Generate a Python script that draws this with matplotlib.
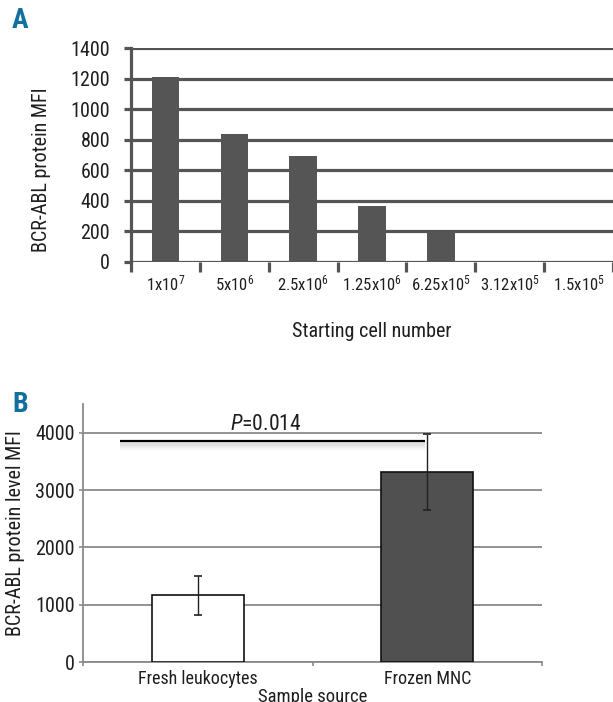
import matplotlib
matplotlib.use("Agg")
import matplotlib.pyplot as plt
import matplotlib.font_manager as fm
import numpy as np

# ---------------- data ----------------
cells_labels = [r"1x10$^{7}$", r"5x10$^{6}$", r"2.5x10$^{6}$", r"1.25x10$^{6}$",
                r"6.25x10$^{5}$", r"3.12x10$^{5}$", r"1.5x10$^{5}$"]
mfi_a = [1210, 835, 695, 365, 205, 0, 0]
yticks_a = [0, 200, 400, 600, 800, 1000, 1200, 1400]

sources = ["Fresh leukocytes", "Frozen MNC"]
mfi_b = [1165, 3320]
err_b = [340, 665]
yticks_b = [0, 1000, 2000, 3000, 4000]
p_text = "=0.014"

# ---------------- font ----------------
available = {f.name for f in fm.fontManager.ttflist}
FONT = "Liberation Sans"
for cand in ["Roboto Condensed", "Archivo Narrow", "PT Sans Narrow",
             "Liberation Sans Narrow", "Arial Narrow"]:
    if cand in available:
        FONT = cand
        break
plt.rcParams["font.family"] = [FONT, "DejaVu Sans"]
plt.rcParams["mathtext.fontset"] = "custom"
plt.rcParams["mathtext.rm"] = FONT
plt.rcParams["mathtext.it"] = FONT + ":italic"
plt.rcParams["mathtext.bf"] = FONT + ":bold"
TXT = "#1e1e1e"
plt.rcParams["text.color"] = TXT
plt.rcParams["xtick.color"] = TXT
plt.rcParams["ytick.color"] = TXT
plt.rcParams["axes.labelcolor"] = TXT

W, H = 613, 702
fig = plt.figure(figsize=(W / 100, H / 100), dpi=100)

def ax_rect(l, r, t, b):
    return [l / W, 1 - b / H, (r - l) / W, (b - t) / H]

# ---------------- Panel A ----------------
GA = "#555555"
axA = fig.add_axes(ax_rect(131, 613, 48, 262))
x = np.arange(len(cells_labels))
axA.bar(x, mfi_a, width=0.4, color=GA, zorder=3)
axA.set_xlim(-0.5, len(cells_labels) - 0.5)
axA.set_ylim(0, 1400)
axA.set_yticks(yticks_a)
axA.set_yticklabels([str(v) for v in yticks_a], fontsize=14.5)
axA.yaxis.grid(True, color=GA, linewidth=2.3, zorder=1)
axA.set_axisbelow(True)
for s in ["top", "right", "bottom"]:
    axA.spines[s].set_visible(False)
axA.spines["left"].set_color(GA)
axA.spines["left"].set_linewidth(2.3)
axA.tick_params(axis="y", length=5, width=2.3, color=GA, pad=10)
axA.set_xticks(x)
axA.set_xticklabels(cells_labels, fontsize=12)
axA.tick_params(axis="x", which="major", length=0, pad=8)
axA.set_xticks(np.arange(-0.5, len(cells_labels)), minor=True)
axA.tick_params(axis="x", which="minor", length=7, width=2.3, color=GA)
axA.set_ylabel("BCR-ABL protein MFI", fontsize=14.5, labelpad=11)
axA.yaxis.set_label_coords(-0.165, 0.43)
axA.set_xlabel("Starting cell number", fontsize=14.5, labelpad=21)
fig.text(12 / W, 1 - 20 / H, "A", fontsize=20, fontweight="bold",
         color="#12709f", va="center", ha="left")

# ---------------- Panel B ----------------
GB = "#8a8a8a"
axB = fig.add_axes(ax_rect(83, 542, 404, 662))
xb = np.arange(len(sources))
axB.bar(xb, mfi_b, width=0.4, color=["white", "#505050"], edgecolor="#111111",
        linewidth=1.2, zorder=3)
axB.errorbar(xb, mfi_b, yerr=err_b, fmt="none", ecolor="#222222",
             elinewidth=1.0, capsize=3, capthick=1.2, zorder=4)
axB.set_xlim(-0.5, len(sources) - 0.5)
axB.set_ylim(0, 4500)
axB.set_yticks(yticks_b)
axB.set_yticklabels([str(v) for v in yticks_b], fontsize=14.5)
axB.yaxis.grid(True, color=GB, linewidth=1.3, zorder=1)
axB.set_axisbelow(True)
for s in ["top", "right"]:
    axB.spines[s].set_visible(False)
for s in ["left", "bottom"]:
    axB.spines[s].set_color(GB)
    axB.spines[s].set_linewidth(1.3)
axB.tick_params(axis="y", length=3, width=1.2, color=GB, pad=3)
axB.set_xticks(xb)
axB.set_xticklabels(sources, fontsize=13)
axB.tick_params(axis="x", which="major", length=0, pad=6)
axB.set_xticks([-0.5, 0.5, 1.5], minor=True)
axB.tick_params(axis="x", which="minor", length=3, width=1.2, color=GB)
axB.set_ylabel("BCR-ABL protein level MFI", fontsize=14.5, labelpad=7)
axB.set_xlabel("Sample source", fontsize=13.5, labelpad=0)

# significance bar with soft shadow
px0, px1, py = -0.34, 0.99, 3860
for off, lw, a in [(100, 6, 0.08), (80, 4.5, 0.10), (60, 3, 0.14)]:
    axB.plot([px0, px1], [py - off, py - off], color="#999999", linewidth=lw,
             alpha=a, solid_capstyle="butt", zorder=4)
axB.plot([px0, px1], [py, py], color="black", linewidth=1.6,
         solid_capstyle="butt", zorder=5)
axB.text(0.295, 4140, r"$\mathit{P}$" + p_text, fontsize=15.5,
         ha="center", va="center")
fig.text(12 / W, 1 - 404 / H, "B", fontsize=20, fontweight="bold",
         color="#12709f", va="center", ha="left")

fig.savefig("out.png", dpi=100)
